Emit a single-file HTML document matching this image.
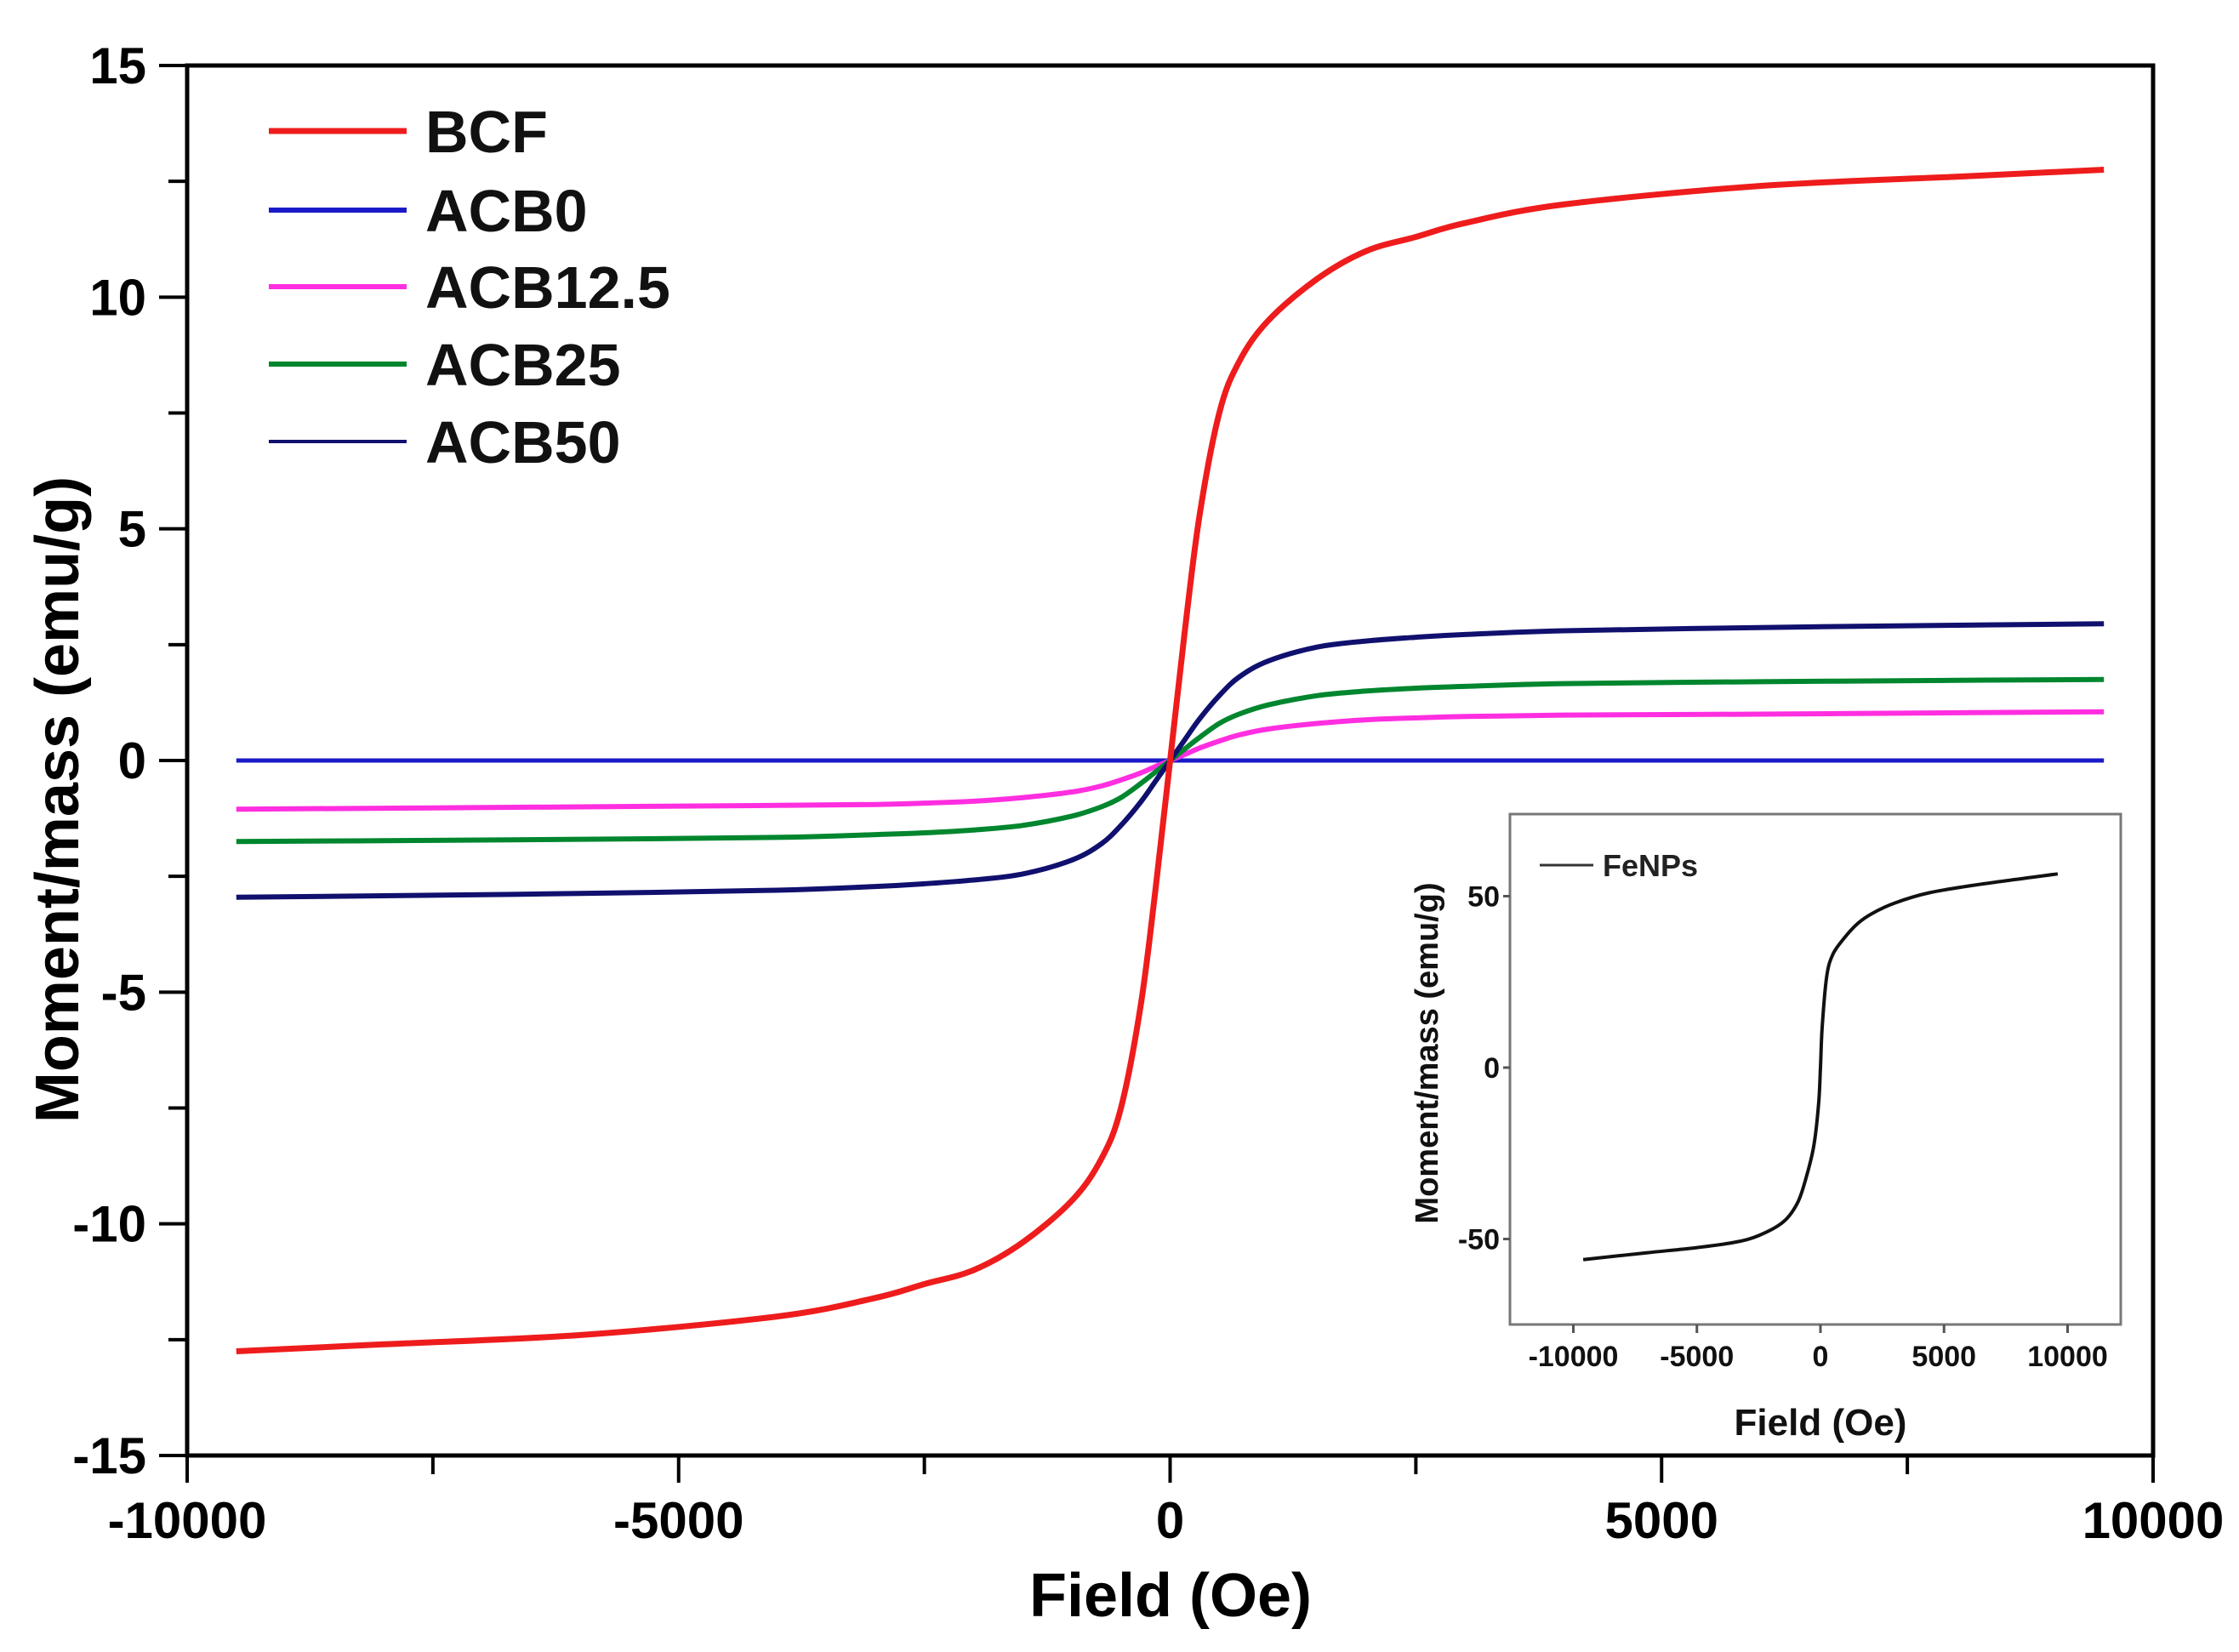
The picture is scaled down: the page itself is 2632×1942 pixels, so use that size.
<!DOCTYPE html>
<html><head><meta charset="utf-8"><style>
html,body{margin:0;padding:0;background:#fff;}
svg{display:block;font-family:"Liberation Sans",Arial,sans-serif;}
</style></head><body>
<svg id="chart" width="2632" height="1942" viewBox="0 0 2632 1942" xmlns="http://www.w3.org/2000/svg">
<g id="main"></g>
<g id="inset"></g>
</svg>
<script>
// Main chart data
const fieldH = [-9500,-8000,-6000,-4000,-3000,-2500,-2000,-1500,-1000,-700,-500,-300,-150,0,150,300,500,700,1000,1500,2000,2500,3000,4000,6000,8000,9500];
const bcfM   = [-12.75,-12.6,-12.4,-12.0,-11.6,-11.3,-11.0,-10.4,-9.5,-8.6,-7.5,-5.3,-2.8,0,2.8,5.3,7.5,8.6,9.5,10.4,11.0,11.3,11.6,12.0,12.4,12.6,12.75];
const acb0M  = [0,0,0,0,0,0,0,0,0,0,0,0,0,0,0,0,0,0,0,0,0,0,0,0,0,0,0];
const acb125M= [-1.05,-1.03,-1.0,-0.97,-0.95,-0.92,-0.88,-0.8,-0.68,-0.55,-0.42,-0.27,-0.13,0,0.13,0.27,0.42,0.55,0.68,0.8,0.88,0.92,0.95,0.98,1.0,1.03,1.05];
const acb25M = [-1.75,-1.73,-1.7,-1.66,-1.6,-1.56,-1.5,-1.4,-1.2,-1.0,-0.8,-0.5,-0.25,0,0.25,0.5,0.8,1.0,1.2,1.4,1.5,1.56,1.6,1.66,1.7,1.73,1.75];
const acb50M = [-2.95,-2.92,-2.87,-2.8,-2.72,-2.66,-2.58,-2.45,-2.15,-1.8,-1.4,-0.9,-0.45,0,0.45,0.9,1.4,1.8,2.15,2.45,2.58,2.66,2.72,2.8,2.87,2.92,2.95];
const seriesNames = ["BCF","ACB0","ACB12.5","ACB25","ACB50"];
const xTicks = [-10000,-5000,0,5000,10000];
const yTicks = [-15,-10,-5,0,5,10,15];
// Inset data
const insetH = [-9600,-7000,-5000,-3500,-2500,-1500,-900,-500,-250,-70,0,70,250,500,940,1500,2100,3000,4400,6500,9600];
const insetM = [-56,-54,-52.5,-51,-49,-45,-39,-30,-22,-10,0,11.7,26.5,33,37.6,42,45,48,51,53.5,56.5];
const insetXTicks = [-10000,-5000,0,5000,10000];
const insetYTicks = [-50,0,50];

const NS="http://www.w3.org/2000/svg";
function mk(parent,tag,attrs){const e=document.createElementNS(NS,tag);for(const k in attrs)e.setAttribute(k,attrs[k]);parent.appendChild(e);return e;}
function smooth(pts){
  let d="M"+pts[0][0].toFixed(1)+","+pts[0][1].toFixed(1);
  for(let i=0;i<pts.length-1;i++){
    const p0=pts[Math.max(i-1,0)],p1=pts[i],p2=pts[i+1],p3=pts[Math.min(i+2,pts.length-1)];
    const c1=[p1[0]+(p2[0]-p0[0])/6,p1[1]+(p2[1]-p0[1])/6];
    const c2=[p2[0]-(p3[0]-p1[0])/6,p2[1]-(p3[1]-p1[1])/6];
    d+=" C"+c1[0].toFixed(1)+","+c1[1].toFixed(1)+" "+c2[0].toFixed(1)+","+c2[1].toFixed(1)+" "+p2[0].toFixed(1)+","+p2[1].toFixed(1);
  }
  return d;
}
// main axes
const L=220,R=2531,T=77,B=1711;
const sx=v=>L+(v+10000)/20000*(R-L);
const sy=v=>B-(v+15)/30*(B-T);
const g=document.getElementById('main');
const frame=mk(g,'rect',{x:L,y:T,width:R-L,height:B-T,fill:'none',stroke:'#000','stroke-width':5});


for(let v=-10000;v<=10000;v+=2500){
  const major=v%5000===0;
  const t=mk(g,'line',{x1:sx(v),x2:sx(v),y1:B,y2:B+(major?32:22),stroke:'#000','stroke-width':4});
  
  
}
xTicks.forEach(v=>{
  const t=mk(g,'text',{x:sx(v),y:1808,'font-size':60,'font-weight':'bold','text-anchor':'middle',fill:'#000'});
  t.textContent=String(v);
  
  
});
for(let v=-15;v<=15;v+=2.5){
  const major=v%5===0;
  const t=mk(g,'line',{x1:L-(major?33:22),x2:L,y1:sy(v),y2:sy(v),stroke:'#000','stroke-width':4});
  
  
}
yTicks.forEach(v=>{
  const t=mk(g,'text',{x:172,y:sy(v)+21,'font-size':60,'font-weight':'bold','text-anchor':'end',fill:'#000'});
  t.textContent=String(v);
  
  
});
const xt=mk(g,'text',{x:1376,y:1900,'font-size':72,'font-weight':'bold','text-anchor':'middle',fill:'#000'});
xt.textContent="Field (Oe)";


const yt=mk(g,'text',{x:0,y:0,'font-size':72,'font-weight':'bold','text-anchor':'middle',fill:'#000',transform:'translate(92,940) rotate(-90)'});
yt.textContent="Moment/mass (emu/g)";



const colors=["#ee1c1c","#1a1ac8","#ff2ee0","#00862e","#10106e"];
const widths=[7,5,6,6,6];
const allM=[bcfM,acb0M,acb125M,acb25M,acb50M];
const order=[1,2,3,4,0];
order.forEach(i=>{
  const pts=fieldH.map((h,k)=>[sx(h),sy(allM[i][k])]);
  const p=mk(g,'path',{d:smooth(pts),fill:'none',stroke:colors[i],'stroke-width':widths[i],'stroke-linejoin':'round'});
  
  
});
const legY=[154,247,337,428,519];
seriesNames.forEach((n,i)=>{
  const l=mk(g,'line',{x1:316,x2:478,y1:legY[i],y2:legY[i],stroke:colors[i],'stroke-width':i===4?4:(i===0?7:6)});
  
  
  const t=mk(g,'text',{x:500,y:legY[i]+25,'font-size':70,'font-weight':'bold',fill:'#111'});
  t.textContent=n;
  
  
});

// inset
const iL=1775,iR=2493,iT=957,iB=1557;
const ix=v=>2140+v/10000*290.5;
const iy=v=>1255-v/50*201.5;
const gi=document.getElementById('inset');
const ibg=mk(gi,'rect',{x:iL,y:iT,width:iR-iL,height:iB-iT,fill:'#fff',stroke:'#777','stroke-width':3});


insetXTicks.forEach(v=>{
  const t=mk(gi,'line',{x1:ix(v),x2:ix(v),y1:iB,y2:iB+10,stroke:'#555','stroke-width':3});
  
  
  const s=mk(gi,'text',{x:ix(v),y:1606,'font-size':34,'font-weight':'bold','text-anchor':'middle',fill:'#111'});
  s.textContent=String(v);
  
  
});
insetYTicks.forEach(v=>{
  const t=mk(gi,'line',{x1:iL-8,x2:iL,y1:iy(v),y2:iy(v),stroke:'#555','stroke-width':3});
  
  
  const s=mk(gi,'text',{x:iL-12,y:iy(v)+12,'font-size':34,'font-weight':'bold','text-anchor':'end',fill:'#111'});
  s.textContent=String(v);
  
  
});
const ixt=mk(gi,'text',{x:2140,y:1687,'font-size':44,'font-weight':'bold','text-anchor':'middle',fill:'#111'});
ixt.textContent="Field (Oe)";


const iyt=mk(gi,'text',{x:0,y:0,'font-size':38,'font-weight':'bold','text-anchor':'middle',fill:'#111',transform:'translate(1690,1238) rotate(-90)'});
iyt.textContent="Moment/mass (emu/g)";


const ip=mk(gi,'path',{d:smooth(insetH.map((h,k)=>[ix(h),iy(insetM[k])])),fill:'none',stroke:'#111','stroke-width':4});


const il=mk(gi,'line',{x1:1810,x2:1873,y1:1017,y2:1017,stroke:'#333','stroke-width':3});


const ilt=mk(gi,'text',{x:1884,y:1030,'font-size':36,'font-weight':'bold',fill:'#222'});
ilt.textContent="FeNPs";


</script>
</body></html>
